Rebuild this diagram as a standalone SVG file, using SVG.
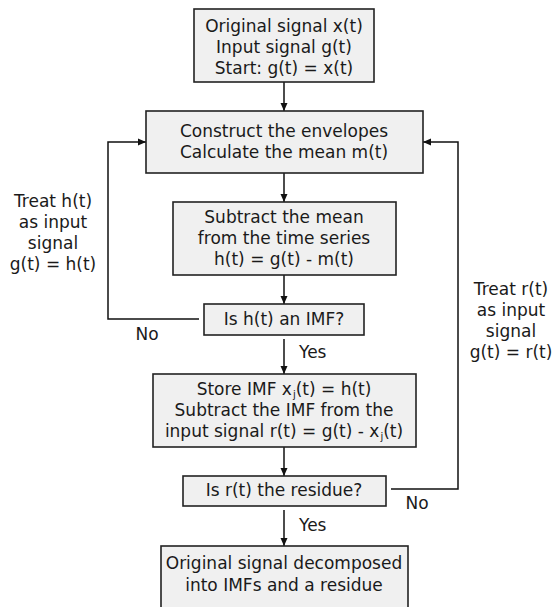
<svg xmlns="http://www.w3.org/2000/svg" width="552" height="607" viewBox="0 0 552 607">
<defs>
<marker id="ah" markerWidth="8" markerHeight="8" refX="8" refY="4" orient="auto" markerUnits="userSpaceOnUse">
<path d="M0,0.5 L8,4 L0,7.5 Z" fill="#111"/>
</marker>
<style>
.box{fill:#f0f0f0;stroke:#222;stroke-width:1.6}
.t{font-family:"DejaVu Sans",sans-serif;font-size:17px;fill:#1a1a1a;text-anchor:middle}
.l{font-family:"DejaVu Sans",sans-serif;font-size:17px;fill:#1a1a1a}
.c{fill:none;stroke:#111;stroke-width:1.5}
.sub{font-size:10px}
</style>
</defs>
<rect width="552" height="607" fill="#fff"/>
<g id="connectors">
<line class="c" x1="284" y1="82" x2="284" y2="111" marker-end="url(#ah)"/>
<line class="c" x1="284" y1="173" x2="284" y2="202" marker-end="url(#ah)"/>
<line class="c" x1="284" y1="275" x2="284" y2="304" marker-end="url(#ah)"/>
<line class="c" x1="284" y1="339" x2="284" y2="374" marker-end="url(#ah)"/>
<line class="c" x1="284" y1="447" x2="284" y2="476" marker-end="url(#ah)"/>
<line class="c" x1="284" y1="510" x2="284" y2="546" marker-end="url(#ah)"/>
<polyline class="c" points="199,319 108,319 108,142 146,142" marker-end="url(#ah)"/>
<polyline class="c" points="391,489 458,489 458,142 423,142" marker-end="url(#ah)"/>
<text class="t" x="147" y="340">No</text>
<text class="t" x="417" y="509">No</text>
<text class="l" x="299" y="358">Yes</text>
<text class="l" x="299" y="531">Yes</text>
<text class="t" x="53" y="207">Treat h(t)</text>
<text class="t" x="53" y="228">as input</text>
<text class="t" x="53" y="249">signal</text>
<text class="t" x="53" y="270">g(t) = h(t)</text>
<text class="t" x="511" y="295">Treat r(t)</text>
<text class="t" x="511" y="316">as input</text>
<text class="t" x="511" y="337">signal</text>
<text class="t" x="511" y="358">g(t) = r(t)</text>
</g>
<g id="start">
<rect class="box" x="194" y="9" width="180" height="73"/>
<text class="t" x="284" y="32">Original signal x(t)</text>
<text class="t" x="284" y="53">Input signal g(t)</text>
<text class="t" x="284" y="74">Start: g(t) = x(t)</text>
</g>
<g id="envelopes">
<rect class="box" x="146" y="111" width="277" height="62"/>
<text class="t" x="284" y="137">Construct the envelopes</text>
<text class="t" x="284" y="158">Calculate the mean m(t)</text>
</g>
<g id="subtract">
<rect class="box" x="173" y="202" width="223" height="73"/>
<text class="t" x="284" y="223">Subtract the mean</text>
<text class="t" x="284" y="244">from the time series</text>
<text class="t" x="284" y="265">h(t) = g(t) - m(t)</text>
</g>
<g id="is-imf">
<rect class="box" x="204" y="304" width="160" height="31"/>
<text class="t" x="284" y="325">Is h(t) an IMF?</text>
</g>
<g id="store">
<rect class="box" x="153" y="374" width="263" height="73"/>
<text class="t" x="284" y="395">Store IMF x<tspan class="sub" dx="1" dy="3">j</tspan><tspan dy="-3">(t) = h(t)</tspan></text>
<text class="t" x="284" y="416">Subtract the IMF from the</text>
<text class="t" x="284" y="437">input signal r(t) = g(t) - x<tspan class="sub" dx="1" dy="3">j</tspan><tspan dy="-3">(t)</tspan></text>
</g>
<g id="is-residue">
<rect class="box" x="183" y="476" width="203" height="30"/>
<text class="t" x="284" y="496">Is r(t) the residue?</text>
</g>
<g id="end">
<rect class="box" x="161" y="546" width="247" height="80"/>
<text class="t" x="284" y="569">Original signal decomposed</text>
<text class="t" x="284" y="591">into IMFs and a residue</text>
</g>
</svg>
